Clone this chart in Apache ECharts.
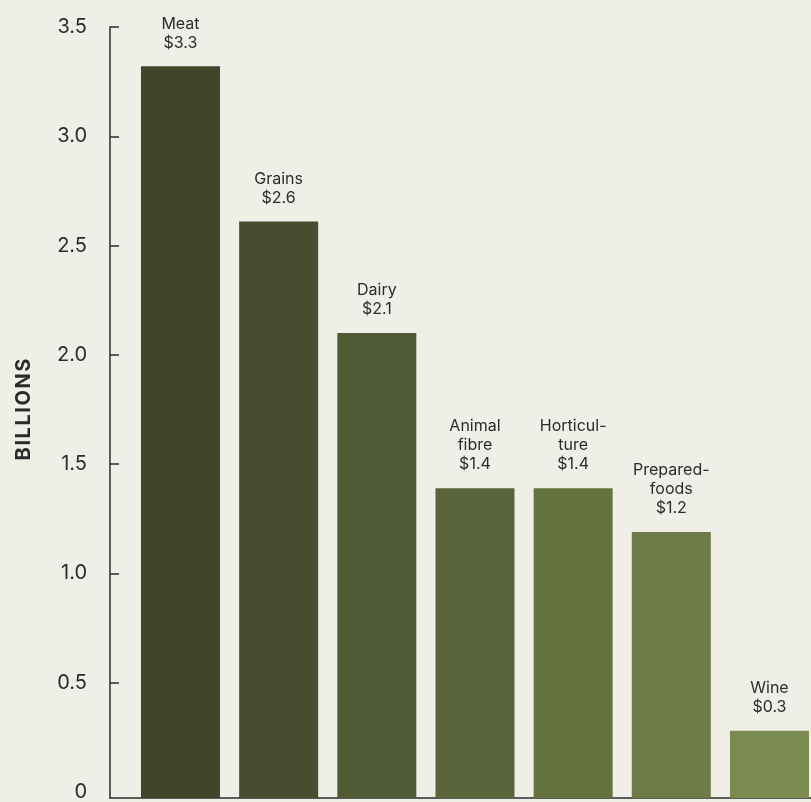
<!DOCTYPE html>
<html>
<head>
<meta charset="utf-8">
<script src="https://cdn.jsdelivr.net/npm/echarts@6/dist/echarts.min.js"></script>
<style>
  html, body { margin: 0; padding: 0; background: #efeee7; }
  #container { width: 811px; height: 802px; }
</style>
</head>
<body>
<div id="container"></div>
<script>
// chart data
const categories = ['Meat', 'Grains', 'Dairy', 'Animal fibre', 'Horticulture', 'Prepared-foods', 'Wine']
const labelNames = ['Meat', 'Grains', 'Dairy', 'Animal\nfibre', 'Horticul-\nture', 'Prepared-\nfoods', 'Wine']
const values = [3.32, 2.61, 2.10, 1.39, 1.39, 1.19, 0.28]
const valueLabels = ['$3.3', '$2.6', '$2.1', '$1.4', '$1.4', '$1.2', '$0.3']
const yLabelValues = [0, 0.5, 1.0, 1.5, 2.0, 2.5, 3.0, 3.5]
const yTickValues = [0.5, 1.0, 1.5, 2.0, 2.5, 3.0, 3.5]

const barColors = ['#3f4629', '#474e2f', '#505a34', '#5a653b', '#647240', '#6e7c47', '#7b8a4f']
const textColor = '#2b2b2b'
const font = 'Inter, "Noto Sans", sans-serif'
const axisBottom = -0.0275 // axis line sits a little below zero

let myChart = echarts.init(document.getElementById('container'), null)
let option = {
  backgroundColor: '#efeee7',
  textStyle: { fontFamily: font },
  grid: { left: 110, right: 0, top: 27, bottom: 4 },
  xAxis: {
    type: 'value',
    min: -0.718,
    max: 6.423,
    axisLine: { show: true, onZero: false, lineStyle: { color: textColor, width: 1.5 } },
    axisTick: { show: false },
    axisLabel: { show: false },
    splitLine: { show: false }
  },
  yAxis: {
    type: 'value',
    min: axisBottom,
    max: 3.5,
    name: 'BILLIONS'.split('').join('\u200A'),
    nameLocation: 'middle',
    nameRotate: 90,
    nameGap: 76,
    nameTextStyle: {
      fontSize: 20,
      fontWeight: 'bold',
      color: textColor,
      fontFamily: font,
      padding: [0, 0, 0, 6]
    },
    axisLine: { show: true, onZero: false, lineStyle: { color: textColor, width: 1.5 } },
    axisTick: {
      show: true,
      inside: true,
      length: 9,
      customValues: yTickValues,
      lineStyle: { color: textColor, width: 1.5 }
    },
    axisLabel: {
      customValues: yLabelValues,
      margin: 23,
      fontSize: 20,
      color: textColor,
      formatter: v => (v === 0 ? '0' : v.toFixed(1))
    },
    splitLine: { show: false }
  },
  series: [
    {
      type: 'bar',
      barWidth: 79,
      data: values.map((v, i) => ({
        value: [i, v],
        itemStyle: { color: barColors[i] }
      })),
      label: {
        show: true,
        position: 'top',
        distance: 14,
        fontSize: 16,
        lineHeight: 19,
        color: textColor,
        align: 'center',
        formatter: p => labelNames[p.dataIndex] + '\n' + valueLabels[p.dataIndex]
      }
    },
    {
      // short extension of each bar down to the axis line
      type: 'bar',
      barWidth: 79,
      barGap: '-100%',
      silent: true,
      data: values.map((v, i) => ({
        value: [i, axisBottom],
        itemStyle: { color: barColors[i] }
      }))
    }
  ]
}
myChart.setOption(option)
</script>
</body>
</html>
